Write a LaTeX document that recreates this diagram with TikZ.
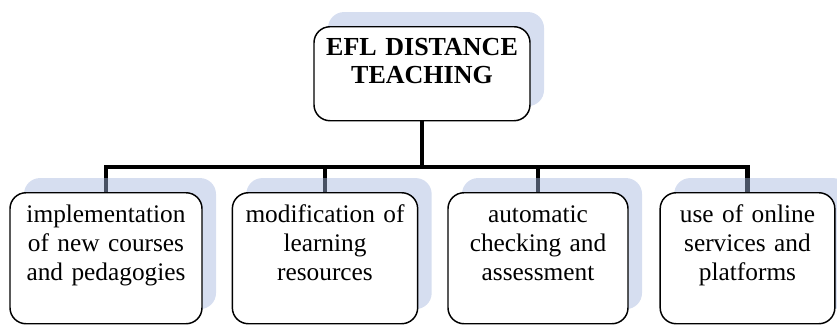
\documentclass[tikz,border=0pt]{standalone}
\usepackage{fontspec}
\setmainfont{Liberation Serif}
\usetikzlibrary{shadows,backgrounds}

\definecolor{shadowblue}{RGB}{164,182,222}

\begin{document}
\begin{tikzpicture}[x=0.75pt,y=-0.75pt,
  box/.style={draw,line width=1.1pt,fill=white,rounded corners=12pt,inner sep=0pt,anchor=north,
    general shadow={fill=shadowblue,fill opacity=0.45,shadow xshift=10.5pt,shadow yshift=11pt}},
  root/.style={box,minimum width=162pt,text width=150pt,align=center,text height=21.75pt,text depth=48.75pt,
    font=\fontsize{19.5}{21}\selectfont\bfseries},
  leaf/.style={box,text width=130pt,align=center,text height=22.5pt,text depth=75.75pt,
    font=\fontsize{19}{21.75}\selectfont},
  conn/.style={line width=3.6pt}]
\useasboundingbox (0,0) rectangle (837,325);

\node[root] (top) at (422,26) {EFL DISTANCE\\TEACHING};

\node[leaf,minimum width=144pt] (b1) at (106,192) {implementation\\of new courses\\and pedagogies};
\node[leaf,minimum width=139pt] (b2) at (325,192) {modification of\\learning\\resources};
\node[leaf,minimum width=135pt] (b3) at (538,192) {automatic\\checking and\\assessment};
\node[leaf,minimum width=131pt] (b4) at (747.5,192) {use of online\\services and\\platforms};

\coordinate (bar) at (422,167);
\begin{scope}[on background layer]
\foreach \n in {b1,b2,b3,b4}
  \draw[conn] (top.south) |- (\n.north |- bar) -- (\n.north);
\end{scope}
\end{tikzpicture}
\end{document}
